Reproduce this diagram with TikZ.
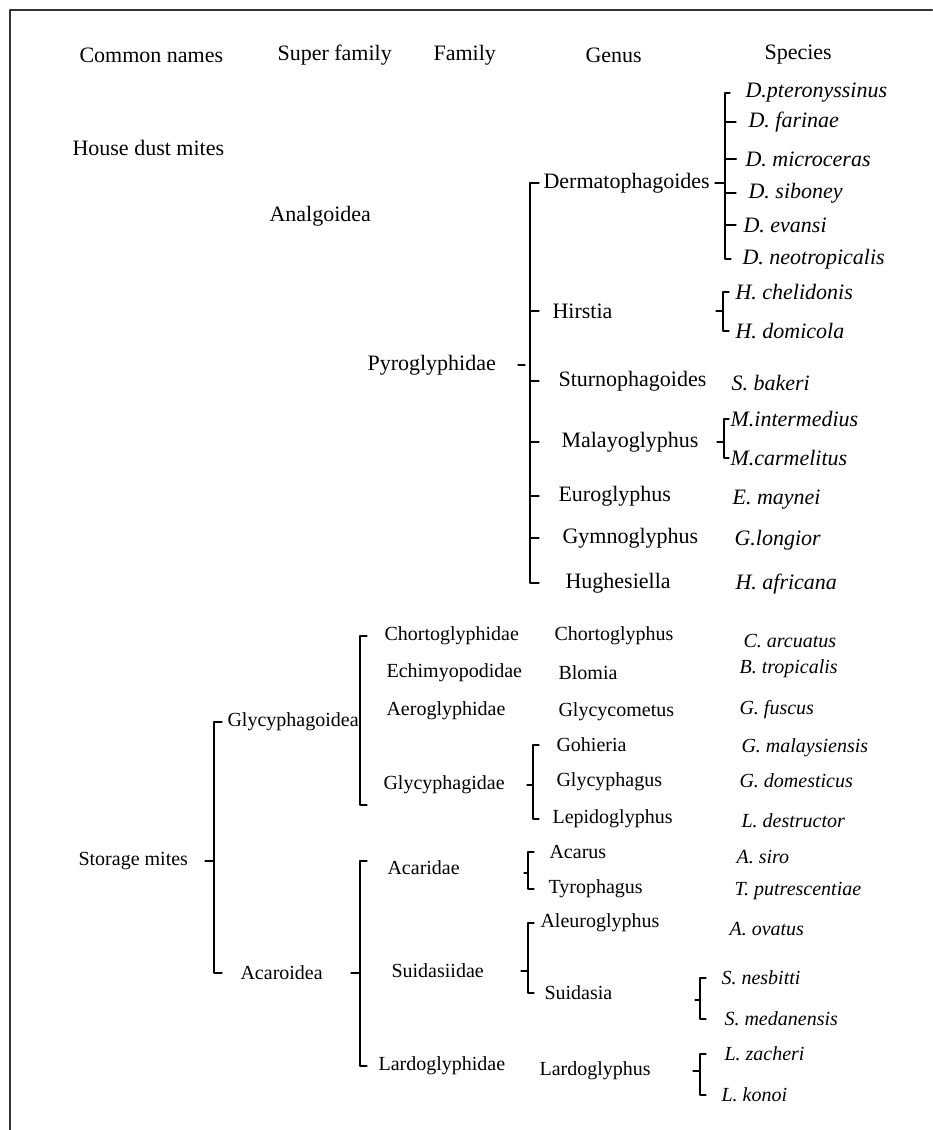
\documentclass[tikz,border=0pt]{standalone}
\usepackage{fontspec}
\setmainfont{Liberation Serif}
\begin{document}
\begin{tikzpicture}[x=1pt,y=-1pt,font=\fontsize{20}{24}\selectfont, line join=round, line cap=round, line width=1.1pt]
	\tikzset{lbl/.style={anchor=west,inner sep=0pt},
		spc/.style={lbl,font=\fontsize{20}{24}\selectfont\itshape},
		lblbig/.style={lbl,font=\fontsize{22}{26}\selectfont},
		spcbig/.style={lbl,font=\fontsize{22}{26}\selectfont\itshape}}
	\useasboundingbox (0,0) rectangle (932,1130);
	\draw[line width=2pt,black!80] (932,10) -- (10,10) -- (10,1130);
	% column heads
	\foreach \n/\x/\t in {hcom/79/Common names, hsup/277/Super family, hfam/433/Family, hgen/585/Genus, hspe/764/Species}
	\node[lblbig] (\n) at (\x,55) {\t};
	% house dust mites
	\foreach \n/\x/\y/\t in {hdm/72/148/House dust mites, ana/269/216/Analgoidea, pyro/367/365/Pyroglyphidae,
		dermat/543/183/Dermatophagoides, hirst/552/311/Hirstia, sturn/558/381/Sturnophagoides, malay/561/442/Malayoglyphus,
		eurog/558/496/Euroglyphus, gymno/562/538/Gymnoglyphus, hughe/565/583/Hughesiella}
	\node[lblbig] (\n) at (\x,\y) {\t};
	\foreach \n/\x/\y/\t in {dpte/745/93/D.pteronyssinus, dfar/748/122/D. farinae, dmic/745/159/D. microceras, dsib/748/193/D. siboney,
		deva/743/225/D. evansi, dneo/742/259/D. neotropicalis, hche/735/292/H. chelidonis, hdom/735/331/H. domicola,
		sbak/731/383/S. bakeri, mint/730/419/M.intermedius, mcar/730/458/M.carmelitus, emay/732/500/E. maynei,
		glon/734/540/G.longior, hafr/735/584/H. africana}
	\node[spcbig] (\n) at (\x,\y) {\t};
	% storage mites
	\foreach \n/\x/\y/\t in {stor/78/861/Storage mites, glyo/227/722/Glycyphagoidea, acao/240/973/Acaroidea,
		chof/384/636/Chortoglyphidae, echf/386/673/Echimyopodidae, aerf/386/711/Aeroglyphidae, glyf/383/785/Glycyphagidae,
		acaf/387/868/Acaridae, suif/391/971/Suidasiidae, larf/378/1066/Lardoglyphidae,
		chog/554/636/Chortoglyphus, blog/558/673/Blomia, glcg/558/712/Glycycometus, gohg/556/745/Gohieria,
		glpg/556/782/Glycyphagus, lepg/552/819/Lepidoglyphus, acag/549/852/Acarus, tyrg/548/889/Tyrophagus,
		aleg/540/923/Aleuroglyphus, suig/544/993/Suidasia, larg/539/1071/Lardoglyphus}
	\node[lbl] (\n) at (\x,\y) {\t};
	\foreach \n/\x/\y/\t in {carc/743/641/C. arcuatus, btro/739/669/B. tropicalis, gfus/739/710/G. fuscus,
		gmal/741/748/G. malaysiensis, gdom/739/781/G. domesticus, ldes/741/821/L. destructor, asir/736/857/A. siro,
		tput/734/891/T. putrescentiae, aova/729/929/A. ovatus, snes/721/978/S. nesbitti, smed/724/1019/S. medanensis,
		lzac/724/1054/L. zacheri, lkon/721/1095/L. konoi}
	\node[spc] (\n) at (\x,\y) {\t};
	% brackets: Pyroglyphidae
	\draw (518,0 |- pyro.west) -- (525,0 |- pyro.west);
	\draw (539,0 |- dermat.west) -- (530,0 |- dermat.west) -- (530,0 |- hughe.west) -- (539,0 |- hughe.west);
	\foreach \n in {hirst,sturn,malay,eurog,gymno}
	\draw (530,0 |- \n.west) -- (539,0 |- \n.west);
	\draw (715,0 |- dermat.west) -- (725,0 |- dermat.west);
	\draw (730,0 |- dpte.west) -- (725,0 |- dpte.west) -- (725,0 |- dneo.west) -- (731,0 |- dneo.west);
	\foreach \n in {dfar,dsib,deva}
	\draw (725,0 |- \n.west) -- (736,0 |- \n.west);
	\draw[line width=2pt] (725,0 |- dmic.west) -- (736,0 |- dmic.west);
	\draw (716,0 |- hirst.west) -- (723,0 |- hirst.west);
	\draw (729,0 |- hche.west) -- (723,0 |- hche.west) -- (723,0 |- hdom.west) -- (729,0 |- hdom.west);
	\draw (717,0 |- malay.west) -- (724,0 |- malay.west);
	\draw (729,0 |- mint.west) -- (724,0 |- mint.west) -- (724,0 |- mcar.west) -- (729,0 |- mcar.west);
	% brackets: storage mites
	\draw (205,0 |- stor.west) -- (214,0 |- stor.west);
	\draw (222,0 |- glyo.west) -- (214,0 |- glyo.west) -- (214,0 |- acao.west) -- (222,0 |- acao.west);
	\coordinate (gfb) at (360,805);
	\draw (367,0 |- chof.west) -- (360,0 |- chof.west) -- (gfb) -- ++(7,0);
	\draw (351,0 |- acao.west) -- (360,0 |- acao.west);
	\draw (367,861) -- (360,861) -- (360,0 |- larf.west) -- (367,0 |- larf.west);
	\draw (527,0 |- glyf.west) -- (533,0 |- glyf.west);
	\draw (539,0 |- gohg.west) -- (533,0 |- gohg.west) -- (533,0 |- lepg.west) -- (539,0 |- lepg.west);
	\draw (524,873) -- (528,873);
	\draw (534,0 |- acag.west) -- (528,0 |- acag.west) -- (528,0 |- tyrg.west) -- (534,0 |- tyrg.west);
	\draw (521,0 |- suif.west) -- (528,0 |- suif.west);
	\draw (534,0 |- aleg.west) -- (528,0 |- aleg.west) -- (528,0 |- suig.west) -- (534,0 |- suig.west);
	\draw (695,1000) -- (700,1000);
	\draw (706,0 |- snes.west) -- (700,0 |- snes.west) -- (700,0 |- smed.west) -- (706,0 |- smed.west);
	\draw (693,0 |- larg.west) -- (700,0 |- larg.west);
	\draw (706,0 |- lzac.west) -- (700,0 |- lzac.west) -- (700,0 |- lkon.west) -- (706,0 |- lkon.west);
\end{tikzpicture}
\end{document}
